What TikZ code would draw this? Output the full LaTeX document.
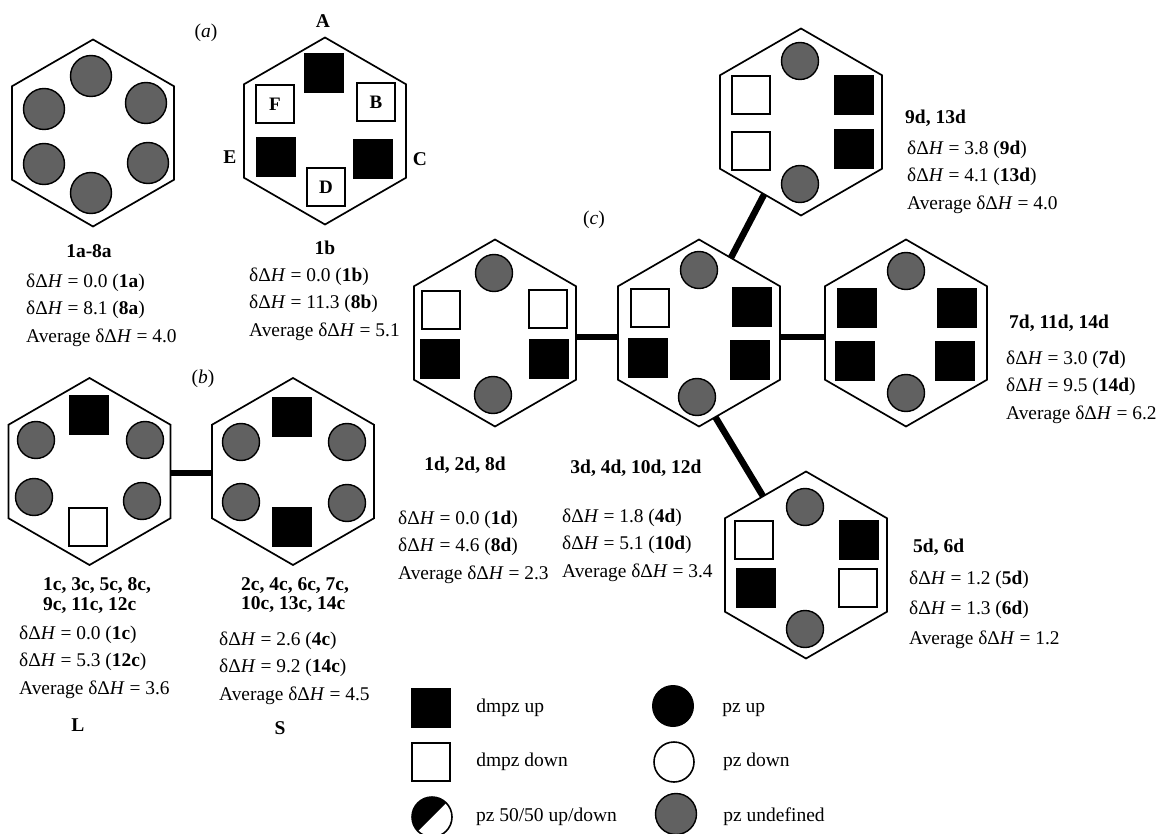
\documentclass[tikz,border=0pt]{standalone}
\usepackage{fontspec}
\setmainfont{Liberation Serif}
\usetikzlibrary{positioning,shapes.geometric}
\newcommand{\ddH}{δΔ\textit{H}}
\tikzset{
  hexa/.style={regular polygon,regular polygon sides=6,draw=black,line width=1.7pt,
    minimum size=187pt,inner sep=0pt,outer sep=0pt},
  bond/.style={line width=6.5pt,draw=black},
  dmpzup/.style={rectangle,fill=black,minimum size=40pt,inner sep=0pt},
  dmpzdn/.style={rectangle,draw=black,fill=white,line width=1.6pt,minimum size=38.5pt,inner sep=0pt,
    font=\fontsize{19}{21}\selectfont\bfseries},
  pzund/.style={circle,draw=black,line width=1.4pt,fill=black!62,minimum size=37pt,inner sep=0pt},
  pzbig/.style={pzund,minimum size=41pt},
  pzup/.style={circle,fill=black,minimum size=42pt,inner sep=0pt},
  pzdn/.style={circle,draw=black,line width=1.6pt,fill=white,minimum size=40pt,inner sep=0pt},
  pzhalf/.style={circle,draw=black,line width=1.6pt,fill=white,minimum size=40pt,inner sep=0pt,
    path picture={\fill[black] (path picture bounding box.south west)--(path picture bounding box.north east)
      --(path picture bounding box.north west)--cycle;}},
  ttl/.style={font=\fontsize{19.5}{19.5}\selectfont\bfseries,align=left,inner sep=0pt},
  stat/.style={font=\fontsize{19.4}{27.5}\selectfont,anchor=west,align=left,inner sep=0pt},
  lbl/.style={font=\fontsize{19.5}{21}\selectfont,inner sep=0pt,text height=12pt,text depth=4pt},
}
\begin{document}
\begin{tikzpicture}[x=1pt,y=-1pt,node distance=25pt]
  \useasboundingbox (0,0) rectangle (1159,834);
  % panel a
  \node[hexa,shape border rotate=30] (hexA) at (93,133) {};
  \node[hexa,shape border rotate=30] (hexB) at (325,131) {};
  \foreach \n/\x/\y in {a1/91/76,a2/146/103,a3/148/163,a4/91/193,a5/44/164,a6/44/109}
    \node[pzbig] (\n) at (\x,\y) {};
  \node[dmpzup] (sqA) at (324,73) {};
  \node[dmpzdn] (sqB) at (376,102) {B};
  \node[dmpzup] (sqC) at (373,159) {};
  \node[dmpzdn] (sqD) at (326,187) {D};
  \node[dmpzup] (sqE) at (276,157) {};
  \node[dmpzdn] (sqF) at (275,104) {F};
  \node[ttl] (tA) at (323,21) {A};
  \node[ttl] (tE) at (230,157) {E};
  \node[ttl] (tC) at (420,159) {C};
  \node[lbl] (capa) at (206,34) {(\textit{a})};
  \node[ttl] (t1a) at (89,251) {1a-8a};
  \node[stat] (s1a) at (26,310) {\ddH{} = 0.0 (\textbf{1a})\\\ddH{} = 8.1 (\textbf{8a})\\Average \ddH{} = 4.0};
  \node[ttl] (t1b) at (325,248) {1b};
  \node[stat] (s1b) at (249,304) {\ddH{} = 0.0 (\textbf{1b})\\\ddH{} = 11.3 (\textbf{8b})\\Average \ddH{} = 5.1};
  % panel b
  \node[hexa,shape border rotate=30] (hexL) at (89.5,471.5) {};
  \node[hexa,shape border rotate=30] (hexS) at (293,471.5) {};
  \draw[bond] ([yshift=-1.5pt]hexL.east) -- ([yshift=-1.5pt]hexS.west);
  \foreach \n/\x/\y in {b1/36/440,b2/145/440,b3/34/497,b4/142/501,b5/241/442,b6/347/442,b7/241/502,b8/347/503}
    \node[pzund] (\n) at (\x,\y) {};
  \node[dmpzup] (sqL1) at (89,415) {};
  \node[dmpzdn] (sqL2) at (88,527) {};
  \node[dmpzup] (sqS1) at (292,417) {};
  \node[dmpzup] (sqS2) at (292,527) {};
  \node[lbl] (capb) at (203,379) {(\textit{b})};
  \node[ttl,anchor=west] (tL) at (43,595.5) {1c, 3c, 5c, 8c,\\9c, 11c, 12c};
  \node[ttl,anchor=west] (tS) at (241,595) {2c, 4c, 6c, 7c,\\10c, 13c, 14c};
  \node[stat] (sL) at (19,662) {\ddH{} = 0.0 (\textbf{1c})\\\ddH{} = 5.3 (\textbf{12c})\\Average \ddH{} = 3.6};
  \node[stat] (sS) at (219,668) {\ddH{} = 2.6 (\textbf{4c})\\\ddH{} = 9.2 (\textbf{14c})\\Average \ddH{} = 4.5};
  \node[ttl] (nL) at (78,725) {L};
  \node[ttl] (nS) at (280,728) {S};
  % panel c
  \node[hexa,shape border rotate=30] (hexl) at (495,333) {};
  \node[hexa,shape border rotate=30] (hexm) at (699,333) {};
  \node[hexa,shape border rotate=30] (hexr) at (906,333) {};
  \node[hexa,shape border rotate=30] (hext) at (801,122) {};
  \node[hexa,shape border rotate=30] (hexb) at (806,565) {};
  \draw[bond] ([yshift=-4pt]hexl.east) -- ([yshift=-4pt]hexm.west);
  \draw[bond] ([yshift=-4pt]hexm.east) -- ([yshift=-4pt]hexr.west);
  \draw[bond] (hexm.67.5) -- (hext.-117);
  \draw[bond] (hexm.-79.3) -- (hexb.122.9);
  \foreach \n/\x/\y in {c1/494/273,c2/493/395,c3/699/270,c4/697/397,c5/906/271,c6/906/393,c7/800/61,c8/800/184,c9/805/507,c10/805/629}
    \node[pzund] (\n) at (\x,\y) {};
  \foreach \n/\x/\y in {u1/440/359,u2/549/359,u3/752/307,u4/648/358,u5/750/360,u6/857/308,u7/957/308,u8/855/361,u9/955/361,u10/854/95,u11/854/149,u12/859/540,u13/756/588}
    \node[dmpzup] (\n) at (\x,\y) {};
  \foreach \n/\x/\y in {o1/441/310,o2/548/309,o3/650/308,o4/751/95,o5/751/151,o6/754/540,o7/858/588}
    \node[dmpzdn] (\n) at (\x,\y) {};
  \node[lbl] (capc) at (594,221) {(\textit{c})};
  \node[ttl] (tl) at (465,465) {1d, 2d, 8d};
  \node[ttl] (tm) at (636,468) {3d, 4d, 10d, 12d};
  \node[stat] (sl) at (398,547) {\ddH{} = 0.0 (\textbf{1d})\\\ddH{} = 4.6 (\textbf{8d})\\Average \ddH{} = 2.3};
  \node[stat] (sm) at (562,545) {\ddH{} = 1.8 (\textbf{4d})\\\ddH{} = 5.1 (\textbf{10d})\\Average \ddH{} = 3.4};
  \node[ttl,anchor=west] (tt) at (905,118) {9d, 13d};
  \node[stat] (st) at (907,177) {\ddH{} = 3.8 (\textbf{9d})\\\ddH{} = 4.1 (\textbf{13d})\\Average \ddH{} = 4.0};
  \node[ttl,anchor=west] (tr) at (1009,323) {7d, 11d, 14d};
  \node[stat] (sr) at (1006,387) {\ddH{} = 3.0 (\textbf{7d})\\\ddH{} = 9.5 (\textbf{14d})\\Average \ddH{} = 6.2};
  \node[ttl,anchor=west] (tb) at (913,547) {5d, 6d};
  \node[stat] (sb) at (909,610) {\ddH{} = 1.2 (\textbf{5d})\\[2.5pt]\ddH{} = 1.3 (\textbf{6d})\\[2.5pt]Average \ddH{} = 1.2};
  % legend
  \node[dmpzup] (k1) at (431,708) {};
  \node[dmpzdn] (k2) at (431,762) {};
  \node[pzhalf] (k3) at (432,817) {};
  \node[pzup] (k4) at (673,706) {};
  \node[pzdn] (k5) at (674,762) {};
  \node[pzbig] (k6) at (676,814) {};
  \node[lbl,right=of k1] (l1) {dmpz up};
  \node[lbl,right=of k2] (l2) {dmpz down};
  \node[lbl,right=23pt of k3] (l3) {pz 50/50 up/down};
  \node[lbl,right=28pt of k4,yshift=-2pt] (l4) {pz up};
  \node[lbl,right=28pt of k5] (l5) {pz down};
  \node[lbl,right=26pt of k6,yshift=-3pt] (l6) {pz undefined};
\end{tikzpicture}
\end{document}
